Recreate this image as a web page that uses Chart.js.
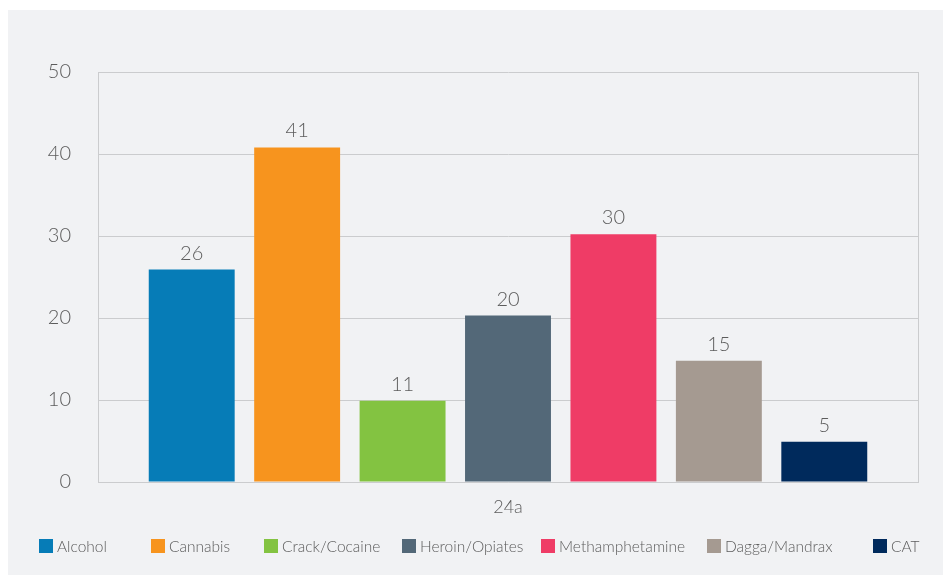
<!DOCTYPE html>
<html>
<head>
<meta charset="utf-8">
<script src="https://cdn.jsdelivr.net/npm/chart.js@4.4.1/dist/chart.umd.min.js"></script>
<style>
  html, body { margin: 0; padding: 0; background: #ffffff; }
  #wrap { position: absolute; left: 8px; top: 10px; width: 935px; height: 565px; background: #f1f2f4; }
  canvas { display: block; }
</style>
</head>
<body>
<div id="wrap"><canvas id="c" width="935" height="565"></canvas></div>
<script>
const categories = ['24a'];
const seriesNames = ['Alcohol', 'Cannabis', 'Crack/Cocaine', 'Heroin/Opiates', 'Methamphetamine', 'Dagga/Mandrax', 'CAT'];
const seriesValues = [25.9, 40.8, 9.9, 20.3, 30.2, 14.8, 4.9];
const valueLabels = ['26', '41', '11', '20', '30', '15', '5'];
const seriesColors = ['#067cb7', '#f7941e', '#83c341', '#536878', '#ef3c66', '#a59a91', '#002a5c'];
const yTicks = [0, 10, 20, 30, 40, 50];

const FONT = 'Lato, "Open Sans", sans-serif';
const TEXT = '#5c5c5c';
const GRID = '#cbccce';

const datasets = seriesNames.map((name, i) => ({
  label: name,
  data: [seriesValues[i]],
  backgroundColor: seriesColors[i],
  borderWidth: 0,
  categoryPercentage: 0.9,
  barPercentage: 0.815,
  valueLabel: valueLabels[i]
}));

const frame = {
  id: 'frame',
  afterDatasetsDraw(chart) {
    const { ctx, chartArea } = chart;
    ctx.save();
    ctx.strokeStyle = GRID;
    ctx.lineWidth = 1;
    ctx.beginPath();
    ctx.moveTo(Math.round(chartArea.right) + 0.5, chartArea.top);
    ctx.lineTo(Math.round(chartArea.right) + 0.5, chartArea.bottom);
    ctx.stroke();
    ctx.fillStyle = TEXT;
    ctx.font = '300 20px ' + FONT;
    ctx.textAlign = 'center';
    ctx.textBaseline = 'alphabetic';
    chart.data.datasets.forEach((ds, i) => {
      const meta = chart.getDatasetMeta(i);
      meta.data.forEach(bar => {
        ctx.fillText(ds.valueLabel, bar.x, bar.y - 10);
      });
    });
    ctx.restore();
  }
};

const legendPos = [31, 143, 256, 394, 533, 699, 865];
const customLegend = {
  id: 'customLegend',
  afterDraw(chart) {
    const { ctx } = chart;
    ctx.save();
    ctx.font = '300 15.5px ' + FONT;
    ctx.textBaseline = 'middle';
    ctx.textAlign = 'left';
    chart.data.datasets.forEach((ds, i) => {
      const x = legendPos[i];
      const y = 529;
      ctx.fillStyle = ds.backgroundColor;
      ctx.fillRect(x, y, 14, 14);
      ctx.fillStyle = TEXT;
      ctx.fillText(ds.label, x + 18, y + 7.5);
    });
    ctx.restore();
  }
};

new Chart(document.getElementById('c'), {
  type: 'bar',
  data: { labels: categories, datasets },
  options: {
    responsive: false,
    animation: false,
    layout: { padding: { top: 62, right: 25, left: 0, bottom: 0 } },
    plugins: { legend: { display: false }, tooltip: { enabled: false } },
    scales: {
      x: {
        grid: { display: false, drawTicks: false },
        border: { display: true, color: GRID, width: 1 },
        ticks: { color: TEXT, font: { family: FONT, size: 18, weight: '300' }, padding: 14 },
        afterFit(s) { s.height = 93; }
      },
      y: {
        min: 0, max: 50,
        afterBuildTicks(s) { s.ticks = yTicks.map(v => ({ value: v })); },
        grid: { color: GRID, lineWidth: 1, drawTicks: false },
        border: { display: true, color: GRID, width: 1 },
        ticks: { color: TEXT, font: { family: FONT, size: 20, weight: '300' }, padding: 27 },
        afterFit(s) { s.width = 90; }
      }
    }
  },
  plugins: [frame, customLegend]
});
</script>
</body>
</html>
